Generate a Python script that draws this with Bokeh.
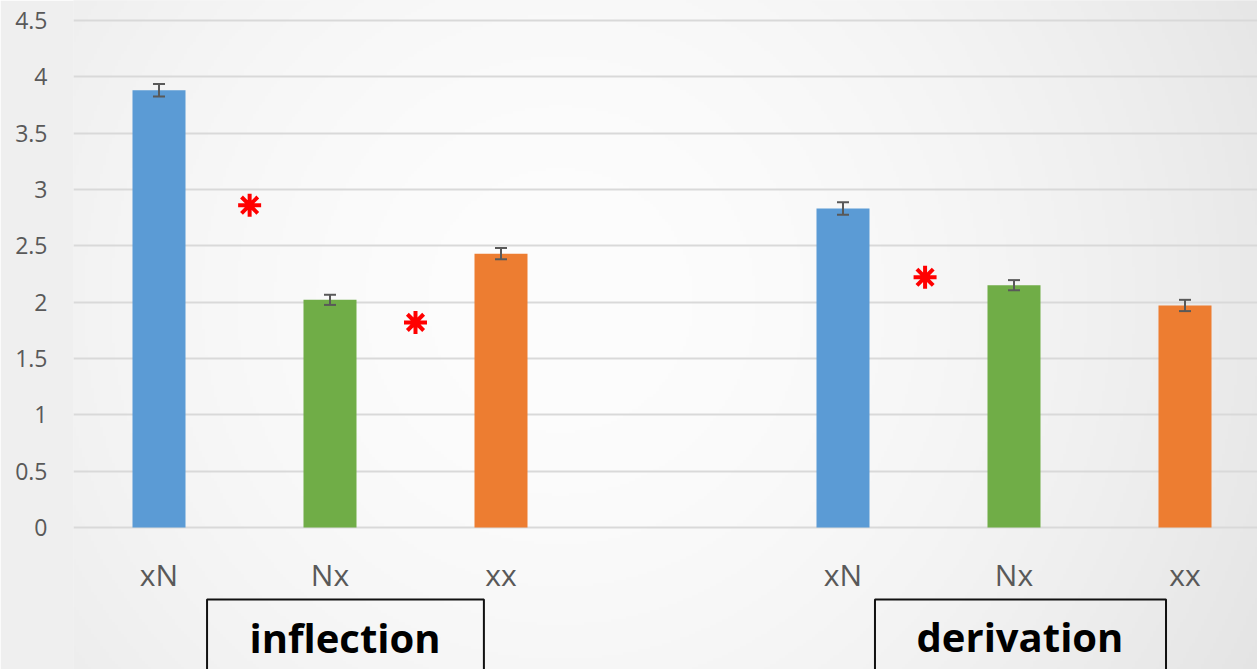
import numpy as np
from bokeh.plotting import figure
from bokeh.models import Range1d, FixedTicker, NumeralTickFormatter, Whisker, TeeHead, ColumnDataSource
from bokeh.core.properties import value
from bokeh.embed import file_html
from bokeh.resources import INLINE

# ---- data ----
groups = ["inflection", "derivation"]
categories = ["xN", "Nx", "xx", "xN", "Nx", "xx"]
slots = [0, 1, 2, 4, 5, 6]          # slot 3 is the empty gap between groups
means = [3.88, 2.02, 2.43, 2.83, 2.15, 1.97]
errors = [0.055, 0.045, 0.05, 0.055, 0.045, 0.05]
bar_colors = ["#5B9BD5", "#70AD47", "#ED7D31", "#5B9BD5", "#70AD47", "#ED7D31"]
star_x = [0.53, 1.50, 4.48]
star_y = [2.86, 1.82, 2.22]
y_ticks = [0, 0.5, 1, 1.5, 2, 2.5, 3, 3.5, 4, 4.5]

# group label boxes (in slot units)
box_left = [0.281, 4.187]
box_right = [1.900, 5.889]
box_top = [-0.639, -0.639]
box_text_x = [1.088, 5.035]
box_text_y = [-0.975, -0.965]

X0, X1 = -0.5, 6.424
Y0, Y1 = -1.26, 4.676

p = figure(width=1257, height=669, x_range=Range1d(X0, X1), y_range=Range1d(Y0, Y1),
           output_backend="svg", toolbar_location=None, x_axis_location=None,
           min_border_left=73, min_border_right=0, min_border_top=0, min_border_bottom=0)
p.outline_line_color = None
p.border_fill_color = "#efefef"
p.background_fill_color = "#f1f1f1"

# radial gradient background for the frame (slightly oversized so edges are clipped)
PAD = 10
W, H = 402, 230
fx = 73 - PAD + (np.arange(W) + 0.5) * ((1184 + 2 * PAD) / W)
fy = 669 + PAD - (np.arange(H) + 0.5) * ((669 + 2 * PAD) / H)   # row 0 = bottom
gx, gy = np.meshgrid(fx, fy)
r = np.sqrt((gx - 560) ** 2 + (gy - 300) ** 2) / 720.0
g = np.clip(253 - 21 * r ** 1.8, 0, 255).astype(np.uint32)
img = (255 << 24) | (g << 16) | (g << 8) | g
sx = (X1 - X0) / 1184.0
sy = (Y1 - Y0) / 669.0
p.image_rgba(image=[img.astype(np.uint32)], x=X0 - PAD * sx, y=Y0 - PAD * sy,
             dw=(X1 - X0) + 2 * PAD * sx, dh=(Y1 - Y0) + 2 * PAD * sy, level="image")

# axes & grid
p.yaxis.ticker = FixedTicker(ticks=y_ticks)
p.yaxis.formatter = NumeralTickFormatter(format="0.[0]")
p.yaxis.major_tick_out = 0
p.yaxis.major_tick_in = 0
p.yaxis.minor_tick_out = 0
p.yaxis.minor_tick_in = 0
p.yaxis.axis_line_color = None
p.yaxis.major_label_standoff = 26
p.yaxis.major_label_text_font = "Open Sans"
p.yaxis.major_label_text_font_size = "23px"
p.yaxis.major_label_text_color = "#595959"
p.xgrid.visible = False
p.ygrid.grid_line_color = "#d9d9d9"
p.ygrid.grid_line_width = 2

# bars
src = ColumnDataSource(dict(x=slots, top=means, color=bar_colors,
                            upper=[m + e for m, e in zip(means, errors)],
                            lower=[m - e for m, e in zip(means, errors)]))
p.vbar(x="x", top="top", bottom=0, width=0.31, fill_color="color", line_color=None, source=src)

w = Whisker(source=src, base="x", upper="upper", lower="lower",
            line_color="#595959", line_width=2, level="overlay",
            upper_head=TeeHead(size=12, line_color="#595959", line_width=2),
            lower_head=TeeHead(size=12, line_color="#595959", line_width=2))
p.add_layout(w)

# significance stars
p.scatter(x=star_x, y=star_y, marker="asterisk", size=23, line_width=4,
          line_color="#FF0000")

# category labels
p.text(x=slots, y=[-0.42] * len(slots), text=categories, text_align="center",
       text_baseline="middle", text_font=value("Open Sans"), text_font_size="30px",
       text_color="#595959")

# group boxes
p.quad(left=box_left, right=box_right, top=box_top, bottom=[Y0 - 1] * 2,
       fill_color=None, line_color="#111111", line_width=2)
p.text(x=box_text_x, y=box_text_y, text=groups, text_align="center",
       text_baseline="middle", text_font=value("Open Sans"), text_font_style="bold",
       text_font_size="40px", text_color="#000000")

open("out.html", "w").write(file_html(p, INLINE))
